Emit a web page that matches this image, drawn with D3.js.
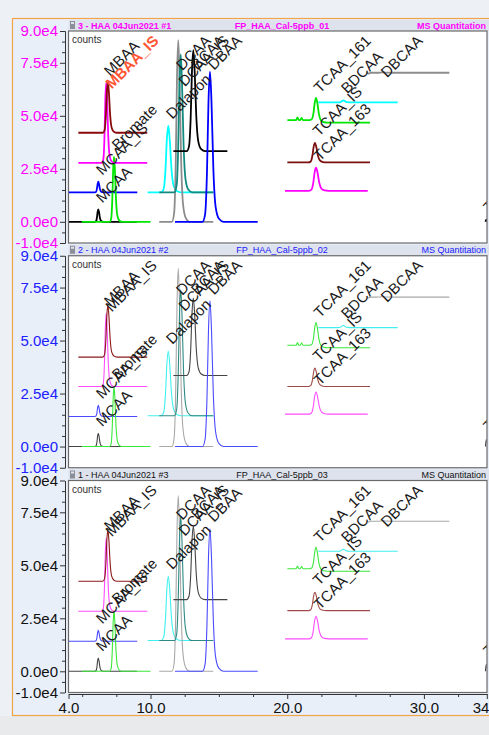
<!DOCTYPE html>
<html>
<head>
<meta charset="utf-8">
<style>
  body { margin: 0; background: #edf0f4; }
  svg { display: block; font-family: "Liberation Sans", Arial, sans-serif; }
</style>
</head>
<body>
<svg id="chart"></svg>
<script src="https://d3js.org/d3.v7.min.js"></script>
<script>
// header texts of the three injections
const panelTitles = ["3 - HAA 04Jun2021 #1", "2 - HAA 04Jun2021 #2", "1 - HAA 04Jun2021 #3"];
const sampleNames = ["FP_HAA_Cal-5ppb_01", "FP_HAA_Cal-5ppb_02", "FP_HAA_Cal-5ppb_03"];
const methodName = "MS Quantitation";

// axes
const yTickValues = [9.0, 7.5, 5.0, 2.5, 0.0, -1.0]; // x1e4 counts
const yTickLabels = ["9.0e4", "7.5e4", "5.0e4", "2.5e4", "0.0e0", "-1.0e4"];
const xTickValues = [4.0, 10.0, 20.0, 30.0, 34.6];
const xTickLabels = ["4.0", "10.0", "20.0", "30.0", "34.6"];

// compounds (one extracted trace each), retention times in min
const compounds = ["MCAA_IS", "MCAA", "Bromate", "MBAA", "MBAA_IS", "Dalapon", "DCAA", "DCAA_IS", "BCAA", "DBAA",
                   "TCAA_161", "BDCAA", "DBCAA", "TCAA_IS", "TCAA_163", "TBAA"];
const traceStart = [4.00, 4.00, 4.97, 4.72, 4.72, 9.79, 10.64, 10.64, 11.67, 11.79, 20.01, 22.27, 25.85, 20.01, 19.84, 34.50];
const traceEnd   = [9.03, 9.00, 10.00, 9.76, 9.76, 14.59, 14.59, 14.59, 15.62, 17.84, 26.06, 28.08, 31.86, 26.06, 25.89, 36.00];
const apexTime   = [6.18, 6.18, 7.33, 6.76, 6.88, 11.30, 12.03, 12.21, 13.13, 14.35, 22.11, 24.10, 27.00, 22.03, 22.11, 34.50];
const peakWidth  = [0.25, 0.25, 0.32, 0.32, 0.37, 0.52, 0.46, 0.46, 0.48, 0.55, 0.46, 0.40, 0.50, 0.48, 0.52, 0.30];
const tailShift  = [0, 0, 0, 0, 0, 0, 0, 0, 0, 0, -0.12, 0, 0, 0, 0, 0];

// baselines and apex heights (x1e4 counts), one row per panel
const baselines = [
  [1.39, 0, 0, 2.78, 4.20, 1.39, 0, 1.39, 3.33, 0, 4.80, 5.63, 7.03, 2.80, 1.46, 0],
  [1.42, 0, 0, 2.83, 4.22, 1.45, 0, 1.45, 3.35, 0, 4.78, 5.61, 7.05, 2.83, 1.53, 0],
  [1.42, 0, 0, 2.83, 4.25, 1.45, 0, 1.45, 3.38, 0, 4.84, 5.66, 7.08, 2.86, 1.53, 0]
];
const apexValues = [
  [1.89, 0.58, 3.07, 6.55, 6.60, 4.53, 8.57, 7.90, 8.10, 7.08, 5.85, 5.73, 7.05, 3.72, 2.55, 0.13],
  [1.94, 0.63, 2.83, 6.30, 6.68, 4.51, 8.41, 7.39, 7.00, 6.87, 5.85, 5.71, 7.07, 3.70, 2.57, 0.42],
  [1.93, 0.63, 2.86, 6.30, 6.68, 4.48, 8.29, 7.30, 6.84, 6.72, 5.85, 5.76, 7.10, 3.73, 2.60, 0.42]
];
// small side bumps on some traces
const minorTrace  = ["TCAA_161", "TCAA_161", "DBCAA"];
const minorTime   = [20.75, 21.05, 25.95];
const minorHeight = [0.12, 0.10, -0.04];
const minorWidth  = [0.10, 0.10, 0.15];

// peak profile: [offset in widths, fraction of height]
const peakShape = [[-1.0, 0], [-0.65, 0.05], [-0.4, 0.33], [-0.2, 0.8], [0, 1], [0.2, 0.8],
                   [0.45, 0.35], [0.75, 0.1], [1.2, 0.02], [1.8, 0]];

const colorsBold = ["#0000ff", "#000000", "#00e600", "#ff00ff", "#8a0a0a", "#00ffff", "#8c8c8c", "#138a80", "#000000", "#0000ff",
                    "#00e600", "#00ffff", "#8c8c8c", "#7a1010", "#ff00ff", "#000000"];
const colorsLight = ["#4a4aff", "#444444", "#3ae83a", "#ff4dff", "#8a1a1a", "#40f0f0", "#a8a8a8", "#2e8a84", "#444444", "#4a4aff",
                     "#3ae83a", "#40f0f0", "#a8a8a8", "#a04a4a", "#ff4dff", "#444444"];
const headerColors = ["#ff00ff", "#2020ff", "#111111"];

const width = 489, height = 735;
const plotLeft = 68.5, plotRight = 487, plotH = 212, firstTop = 31, panelStep = 224.75;

const svg = d3.select("#chart").attr("width", width).attr("height", height);

// background + orange frame
svg.append("rect").attr("width", width).attr("height", height).attr("fill", "#edf0f4");
svg.append("rect").attr("x", 0).attr("y", 716).attr("width", width).attr("height", 19).attr("fill", "#e9eaec");
svg.append("rect").attr("x", 12.5).attr("y", 18.5).attr("width", 500).attr("height", 697)
  .attr("fill", "#e9eff9").attr("stroke", "#f3a34a").attr("stroke-width", 1.2);

const x = d3.scaleLinear().domain([4.0, 34.6]).range([plotLeft, 486.8]);

function tracePoints(i, p) {
  const t0 = apexTime[i], w = peakWidth[i];
  const b = baselines[p][i], bEnd = b + tailShift[i], top = apexValues[p][i];
  const pts = [[traceStart[i], b]];
  peakShape.forEach(([dx, f]) => {
    const t = t0 + dx * w;
    const base = dx < 0 ? b : bEnd;
    if (t > traceStart[i] && t < traceEnd[i]) pts.push([t, base + f * (top - base)]);
  });
  minorTrace.forEach((name, k) => {
    if (name !== compounds[i]) return;
    const base = minorTime[k] < t0 ? b : bEnd;
    pts.push([minorTime[k] - minorWidth[k], base], [minorTime[k], base + minorHeight[k]], [minorTime[k] + minorWidth[k], base]);
  });
  pts.push([traceEnd[i], bEnd]);
  return pts.sort((a, c) => a[0] - c[0]);
}

panelTitles.forEach((title, p) => {
  const top = firstTop + p * panelStep;
  const bottom = top + plotH;
  const y = d3.scaleLinear().domain([-1, 9]).range([bottom, top]);
  const g = svg.append("g");
  const col = headerColors[p];

  // header bar
  g.append("rect").attr("x", plotLeft).attr("y", top - 11).attr("width", 425).attr("height", 11).attr("fill", "#dde2ec");
  g.append("rect").attr("x", 70).attr("y", top - 10).attr("width", 5).attr("height", 8).attr("fill", "#8a8f99");
  g.append("rect").attr("x", 71).attr("y", top - 9).attr("width", 3).attr("height", 2).attr("fill", "#e0e3ea");
  const hdr = g.append("g").attr("font-size", 9).attr("fill", col).attr("font-weight", p === 0 ? "bold" : "normal");
  hdr.append("text").attr("x", 78).attr("y", top - 2.5).text(title);
  hdr.append("text").attr("x", 282).attr("y", top - 2.5).attr("text-anchor", "middle").text(sampleNames[p]);
  hdr.append("text").attr("x", 486).attr("y", top - 2.5).attr("text-anchor", "end").text(methodName);

  // plot box
  g.append("rect").attr("x", plotLeft).attr("y", top).attr("width", plotRight - plotLeft).attr("height", plotH)
    .attr("fill", "#ffffff").attr("stroke", "#6a6a6a").attr("stroke-width", 1.2);
  g.append("text").attr("x", 72).attr("y", top + 12).attr("font-size", 10).attr("fill", "#333").text("counts");

  // y axis
  const yAxis = g.append("g").attr("transform", "translate(65,0)")
    .call(d3.axisLeft(y).tickValues(yTickValues).tickFormat((d, k) => yTickLabels[k]).tickSize(5).tickSizeOuter(0).tickPadding(2));
  yAxis.selectAll("text").attr("font-size", 15).attr("fill", col).attr("font-family", "Liberation Sans, Arial, sans-serif");
  yAxis.selectAll("line, path").attr("stroke", "#333");
  const yMinor = d3.range(-1, 9.01, 0.5).filter(v => !yTickValues.includes(v));
  g.append("g").attr("transform", "translate(65,0)")
    .call(d3.axisLeft(y).tickValues(yMinor).tickFormat("").tickSize(3).tickSizeOuter(0))
    .selectAll("line, path").attr("stroke", "#333");

  // traces
  const clipId = "clip" + p;
  svg.append("clipPath").attr("id", clipId).append("rect")
    .attr("x", plotLeft + 0.5).attr("y", top + 0.5).attr("width", plotRight - plotLeft - 1).attr("height", plotH - 1);
  const plot = g.append("g").attr("clip-path", `url(#${clipId})`);
  const line = d3.line().x(d => x(d[0])).y(d => y(d[1])).curve(d3.curveMonotoneX);
  const palette = p === 0 ? colorsBold : colorsLight;
  compounds.forEach((name, i) => {
    plot.append("path").attr("d", line(tracePoints(i, p))).attr("fill", "none")
      .attr("stroke", palette[i]).attr("stroke-width", p === 0 ? 1.8 : 1.1);
  });

  // peak labels, kept inside the box; the selected one is drawn last
  const isHi = i => p === 0 && compounds[i] === "MBAA_IS";
  const order = compounds.map((n, i) => i).sort((a, b) => isHi(a) - isHi(b));
  order.forEach(i => {
    const hi = isHi(i);
    const t = plot.append("text").attr("font-size", 15).attr("fill", hi ? "#ff5533" : "#1a1a1a")
      .attr("font-weight", hi ? "bold" : "normal").text(compounds[i]);
    const len = t.node().getComputedTextLength();
    const rise = (len + 11) * Math.SQRT1_2;
    const lx = x(apexTime[i]) + 4;
    const ly = Math.max(y(apexValues[p][i]) - 6, top + 3 + rise);
    t.attr("transform", `translate(${lx},${ly}) rotate(-45)`);
  });

  // x axis only under the last panel
  if (p === panelTitles.length - 1) {
    const xAxis = g.append("g").attr("transform", `translate(0,${bottom + 1.5})`)
      .call(d3.axisBottom(x).tickValues(xTickValues).tickFormat((d, k) => xTickLabels[k]).tickSize(5).tickSizeOuter(0).tickPadding(3));
    xAxis.selectAll("text").attr("font-size", 15).attr("fill", "#111").attr("font-family", "Liberation Sans, Arial, sans-serif");
    xAxis.selectAll("line, path").attr("stroke", "#333");
    g.append("g").attr("transform", `translate(0,${bottom + 1.5})`)
      .call(d3.axisBottom(x).tickValues([5, 7.5, 12.5, 15, 17.5, 22.5, 25, 27.5, 32.5]).tickFormat("").tickSize(3).tickSizeOuter(0))
      .selectAll("line, path").attr("stroke", "#333");
  }
});
</script>
</body>
</html>
